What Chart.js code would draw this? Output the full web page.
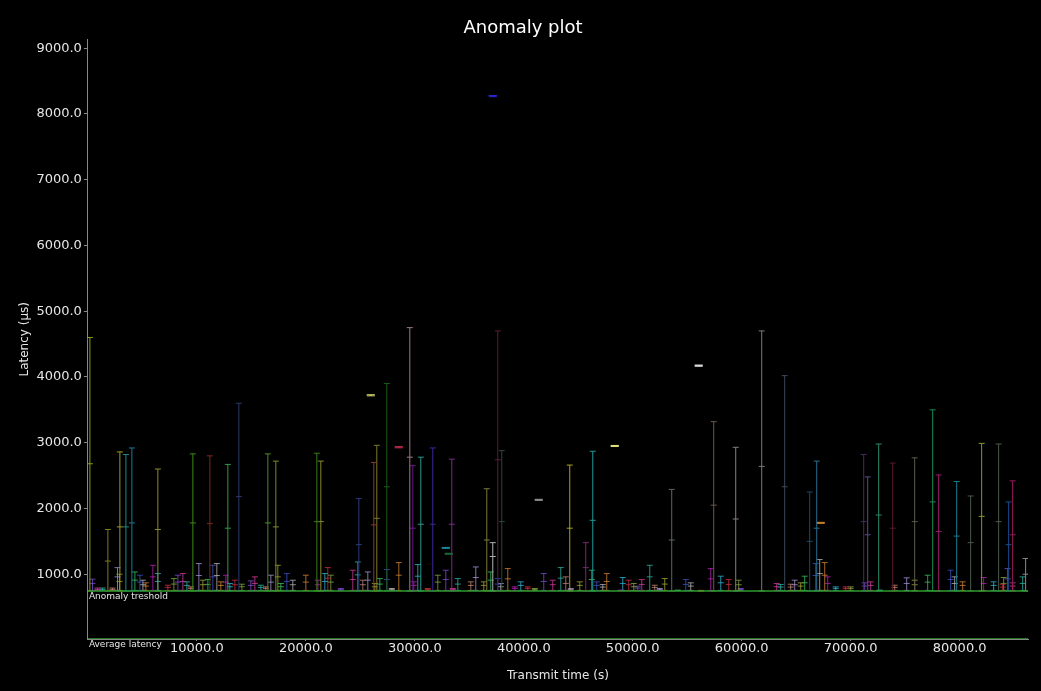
<!DOCTYPE html>
<html>
<head>
<meta charset="utf-8">
<title>Anomaly plot</title>
<script src="https://cdn.jsdelivr.net/npm/chart.js@4"></script>
<style>
  html, body { margin: 0; padding: 0; background: #000; }
  #wrap { width: 1041px; height: 691px; }
</style>
</head>
<body>
<div id="wrap"><canvas id="myChart" width="1041" height="691"></canvas></div>
<script>
// axis ticks
const xTickValues = [10000, 20000, 30000, 40000, 50000, 60000, 70000, 80000];
const yTickValues = [1000, 2000, 3000, 4000, 5000, 6000, 7000, 8000, 9000];

const anomalyThreshold = 746;
const averageLatency = 15;

// tall spikes (start at the threshold)
const tallTimes = [183, 1835, 2936, 3486, 4037, 6422, 9633, 11193, 12844, 13853, 16514, 17247, 21009, 21376,
  24862, 26238, 26513, 27431, 29541, 29817, 30550, 31651, 33394, 36605, 37155, 37614, 37981, 44219, 45687,
  46330, 53577, 57430, 59449, 61834, 63944, 66237, 66880, 71192, 71559, 72568, 73852, 75870, 77521, 78071,
  79722, 81007, 82016, 83575, 84493, 84860, 86053];
const tallHighs = [4600, 1680, 2860, 2820, 2920, 2600, 2830, 2800, 2670, 3600, 2830, 2720, 2840, 2720,
  2150, 2700, 2960, 3900, 4750, 2650, 2780, 2920, 2750, 2300, 1480, 4700, 2880, 2660, 1480,
  2870, 2290, 3320, 2930, 4700, 4020, 2250, 2720, 2820, 2480, 2980, 2690, 2770, 3500, 2510,
  2410, 2190, 2990, 2980, 2100, 2420, 1240];
const tallMids = [2680, 1200, 1720, 1720, 1780, 1680, 1780, 1770, 1700, 2180, 1780, 1720, 1800, 1800,
  1450, 1750, 1850, 2330, 2780, 1700, 1760, 1760, 1760, 1520, 1270, 2740, 1800, 1700, 1100,
  1820, 1520, 2050, 1840, 2640, 2330, 1500, 1700, 1800, 1600, 1900, 1700, 1800, 2100, 1650,
  1580, 1480, 1880, 1800, 1450, 1600, 1000];

// small spikes near the threshold
const smallTimes = [422, 881, 1340, 2257, 2716, 2900, 4312, 4771, 5046, 5321, 5963, 6422, 7339, 7890,
  8257, 8716, 9083, 9450, 10184, 10551, 11010, 11468, 11835, 12202, 12661, 13028, 13487, 14129, 14954,
  15321, 15872, 16330, 16789, 17431, 17706, 18257, 18807, 20000, 21101, 21743, 22018, 22293, 23211,
  24312, 24770, 25229, 25688, 26330, 26789, 27431, 27890, 28532, 29908, 30275, 31192, 32110, 32844,
  33486, 33945, 35138, 35596, 36330, 36972, 37615, 37890, 38532, 39174, 39725, 40367, 41009, 41835,
  42661, 43395, 43853, 44312, 45138, 46239, 46697, 47248, 47615, 48899, 49083, 49633, 50092, 50459,
  50826, 51560, 52018, 52477, 52936, 54128, 54862, 55321, 56239, 57156, 58074, 58808, 59725, 59908,
  63211, 63578, 64495, 64862, 65413, 65780, 66789, 67156, 67615, 67890, 68624, 69541, 70000, 71284,
  71835, 72661, 74037, 75138, 75872, 77064, 79174, 79541, 80275, 82202, 83119, 83945, 84037, 84403,
  84862, 85780];
const smallHighs = [925, 790, 790, 790, 1100, 1000, 1035, 985, 909, 869, 1136, 1010, 833, 934,
  985, 1010, 884, 808, 1162, 909, 919, 1136, 1162, 884, 985, 859, 909, 848, 899,
  960, 833, 808, 985, 1136, 859, 1010, 909, 985, 909, 1010, 1101, 985, 783,
  1061, 1187, 909, 1035, 859, 934, 1071, 783, 1177, 884, 1147, 783, 985, 1061,
  783, 934, 884, 1111, 884, 1035, 934, 859, 1086, 808, 884, 808, 783, 1010,
  909, 1101, 960, 783, 884, 1061, 884, 843, 1010, 758, 950, 909, 859, 818,
  919, 1136, 833, 783, 934, 758, 919, 869, 747, 1086, 970, 919, 909, 783,
  859, 843, 848, 909, 869, 970, 1162, 1223, 1177, 960, 808, 808, 808, 869,
  884, 758, 833, 945, 909, 985, 1061, 960, 884, 950, 884, 848, 950, 1086,
  869, 960];
const smallMids = [860, 770, 770, 770, 960, 890, 910, 880, 840, 820, 960, 890, 800, 850,
  880, 890, 830, 785, 980, 840, 845, 960, 980, 830, 880, 810, 840, 810, 830,
  860, 800, 785, 880, 960, 810, 890, 840, 880, 840, 890, 940, 880, 770,
  920, 990, 840, 910, 810, 850, 920, 770, 985, 830, 970, 770, 880, 920,
  770, 850, 830, 950, 830, 910, 850, 810, 930, 785, 830, 785, 770, 890,
  840, 940, 860, 770, 830, 920, 830, 805, 890, 752, 860, 840, 810, 790,
  845, 960, 800, 770, 850, 752, 845, 820, 748, 930, 870, 845, 840, 770,
  810, 805, 805, 840, 820, 870, 980, 1010, 985, 860, 785, 785, 785, 820,
  830, 752, 800, 860, 840, 880, 920, 860, 830, 860, 830, 805, 860, 930,
  820, 860];

// floating segments
const floatTimes = [37155, 25962, 28531, 41375, 48347, 56053, 32843, 33118, 67246];
const floatLows = [8262, 3712, 2922, 2122, 2942, 4162, 1393, 1303, 1772];
const floatHighs = [8278, 3728, 2938, 2138, 2958, 4178, 1407, 1317, 1788];

// colours
const tallColors = ["#8c9c1c", "#7a7a20", "#9a9a20", "#1a8a8a", "#1a7a9a", "#8a8a30", "#3a8a1a", "#7a2a1a",
  "#2a9a4a", "#2a3a6a", "#4a8a2a", "#7a8a2a", "#3a7a1a", "#8a8a2a", "#2a3a7a", "#8a3a2a", "#7a7a2a",
  "#1a5a1a", "#9a7a8a", "#6a1a8a", "#2a9a8a", "#3a2a9a", "#7a2a8a", "#7a7a3a", "#b0b0b0", "#5a1a3a",
  "#2a4a3a", "#aaa020", "#7a2a6a", "#1a9a9a", "#5a6a5a", "#6a5a4a", "#8a7a8a", "#7a7a7a", "#3a4a5a",
  "#1a4a6a", "#2a6a8a", "#4a2a5a", "#5a4a8a", "#2a8a6a", "#5a1a2a", "#5a5a4a", "#1a8a5a", "#9a1a6a",
  "#1a7a8a", "#4a5a4a", "#8a9a1a", "#4a5a4a", "#1a4a8a", "#9a1a5a", "#8a8a8a"];
const smallPalette = ["#7a4ad0", "#d03a9a", "#2ab0a0", "#c08070", "#a090d0", "#a0a030", "#30c060",
  "#3a50c0", "#b0b0b0", "#d08030", "#b020b0", "#30b0d0", "#c03040", "#80a040"];
const floatColors = ["#2a2ad8", "#c0c060", "#c02a4a", "#8a8a8a", "#e0e080", "#e0e0e0", "#1a8a9a", "#1a6a3a", "#c07a2a"];

function spike(x, lo, mid, hi, color) {
  return {
    type: "line",
    data: [{ x: x, y: lo }, { x: x, y: mid }, { x: x, y: hi }],
    borderColor: color,
    borderWidth: 1,
    pointStyle: "line",
    pointRadius: 3,
    pointBorderColor: color,
    pointBorderWidth: 1,
    pointBackgroundColor: color,
    order: 2,
  };
}

const datasets = [];
tallTimes.forEach((t, i) => datasets.push(spike(t, anomalyThreshold, tallMids[i], tallHighs[i], tallColors[i])));
smallTimes.forEach((t, i) =>
  datasets.push(spike(t, anomalyThreshold + 8, smallMids[i], smallHighs[i], smallPalette[i % smallPalette.length] + "cc"))
);
floatTimes.forEach((t, i) => {
  const d = spike(t, floatLows[i], floatHighs[i], floatHighs[i], floatColors[i]);
  d.pointRadius = 4;
  d.borderWidth = 2;
  datasets.push(d);
});

const xMin = 0;
const xMax = 86270;
const greenLine = (y) => ({
  type: "line",
  data: [{ x: xMin, y: y }, { x: xMax, y: y }],
  borderColor: "#2e9a2e",
  borderWidth: 1.5,
  pointRadius: 0,
  order: 1,
});
datasets.push(greenLine(anomalyThreshold));
datasets.push(greenLine(averageLatency));

// text next to the two reference lines
const lineLabels = {
  id: "lineLabels",
  afterDatasetsDraw(chart) {
    const { ctx, scales } = chart;
    const left = scales.x.getPixelForValue(xMin) + 1;
    ctx.save();
    ctx.fillStyle = "#e6e6e6";
    ctx.font = "9px 'DejaVu Sans'";
    ctx.textBaseline = "top";
    ctx.fillText("Anomaly treshold", left, scales.y.getPixelForValue(anomalyThreshold) + 1);
    ctx.fillText("Average latency", left, scales.y.getPixelForValue(averageLatency) + 1);
    ctx.restore();
  },
};

const config = {
  type: "scatter",
  data: { datasets: datasets },
  options: {
    responsive: false,
    animation: false,
    layout: { padding: { left: 18, right: 13, top: 0, bottom: 0 } },
    scales: {
      x: {
        type: "linear",
        min: xMin,
        max: xMax,
        afterBuildTicks: (scale) => { scale.ticks = xTickValues.map((v) => ({ value: v })); },
        ticks: {
          color: "#e6e6e6",
          font: { family: "DejaVu Sans", size: 13 },
          maxRotation: 0,
          padding: 0,
          callback: (v) => v.toFixed(1),
        },
        grid: { drawOnChartArea: false, color: "#888", tickLength: 2 },
        border: { color: "#888" },
        title: {
          display: true,
          text: "Transmit time (s)",
          color: "#e6e6e6",
          font: { family: "DejaVu Sans", size: 12 },
          padding: { top: 12, bottom: 8 },
        },
      },
      y: {
        type: "linear",
        min: averageLatency,
        max: 9130,
        afterBuildTicks: (scale) => { scale.ticks = yTickValues.map((v) => ({ value: v })); },
        ticks: {
          color: "#e6e6e6",
          font: { family: "DejaVu Sans", size: 13 },
          padding: 2,
          callback: (v) => v.toFixed(1),
        },
        grid: { drawOnChartArea: false, color: "#888", tickLength: 4 },
        border: { color: "#888" },
        title: {
          display: true,
          text: "Latency (µs)",
          color: "#e6e6e6",
          font: { family: "DejaVu Sans", size: 12 },
          padding: { top: 0, bottom: 2 },
        },
      },
    },
    plugins: {
      legend: { display: false },
      tooltip: { enabled: false },
      title: {
        display: true,
        text: "Anomaly plot",
        color: "#ffffff",
        font: { family: "DejaVu Sans", size: 18, weight: "normal" },
        padding: { top: 18, bottom: 0 },
      },
    },
    events: [],
  },
  plugins: [lineLabels],
};

const myChart = new Chart(document.getElementById("myChart"), config);
</script>
</body>
</html>
